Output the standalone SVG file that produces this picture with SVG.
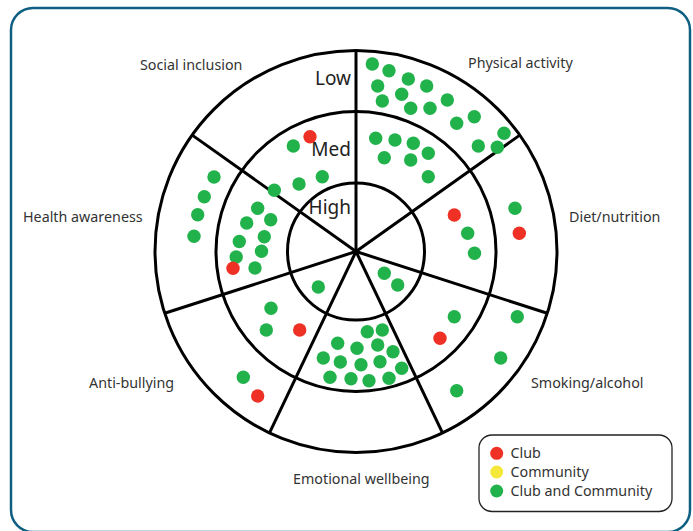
<svg xmlns="http://www.w3.org/2000/svg" width="693" height="531" viewBox="0 0 693 531">
<style>
.ring{fill:none;stroke:#000;stroke-width:3}
.spoke{stroke:#000;stroke-width:3;stroke-linecap:butt}
.lbl{font-family:"Noto Sans","Liberation Sans",sans-serif;font-size:14.3px;fill:#333}
.lvl{font-family:"Noto Sans","Liberation Sans",sans-serif;font-size:19px;fill:#222;text-anchor:end}
.g{fill:#21b24b}
.r{fill:#ee3124}
.y{fill:#f5e83a}
</style>
<rect x="11" y="8" width="679" height="524" rx="22" fill="#fff" stroke="#0f5f82" stroke-width="2.5"/>
<g id="rings">
<circle class="ring" cx="356" cy="251.5" r="201"/>
<circle class="ring" cx="356" cy="251.5" r="140"/>
<circle class="ring" cx="356" cy="251.5" r="68.5"/>
</g>
<g id="connectors">
<line class="spoke" x1="356" y1="251.5" x2="356" y2="50.5"/>
<line class="spoke" x1="356" y1="251.5" x2="519.8" y2="135.1"/>
<line class="spoke" x1="356" y1="251.5" x2="547.3" y2="313.3"/>
<line class="spoke" x1="356" y1="251.5" x2="442.5" y2="432.9"/>
<line class="spoke" x1="356" y1="251.5" x2="269.5" y2="432.9"/>
<line class="spoke" x1="356" y1="251.5" x2="164.7" y2="313.3"/>
<line class="spoke" x1="356" y1="251.5" x2="192.2" y2="135.1"/>
</g>
<g id="levels">
<text class="lvl" x="351" y="85">Low</text>
<text class="lvl" x="351" y="156">Med</text>
<text class="lvl" x="351" y="214">High</text>
</g>
<g id="social-inclusion">
<text class="lbl" x="140" y="70">Social inclusion</text>
<circle class="r" cx="310" cy="136.7" r="6.7"/>
<circle class="g" cx="293.3" cy="146" r="6.7"/>
<circle class="g" cx="322.3" cy="176.7" r="6.7"/>
<circle class="g" cx="299" cy="184" r="6.7"/>
<circle class="g" cx="274.3" cy="190.3" r="6.7"/>
</g>
<g id="physical-activity">
<text class="lbl" x="468" y="68">Physical activity</text>
<circle class="g" cx="372.3" cy="64" r="6.7"/>
<circle class="g" cx="389" cy="70.7" r="6.7"/>
<circle class="g" cx="408.3" cy="79" r="6.7"/>
<circle class="g" cx="426.7" cy="86" r="6.7"/>
<circle class="g" cx="377.7" cy="86" r="6.7"/>
<circle class="g" cx="401.7" cy="94.3" r="6.7"/>
<circle class="g" cx="382.3" cy="101" r="6.7"/>
<circle class="g" cx="410.7" cy="108.3" r="6.7"/>
<circle class="g" cx="430" cy="108.3" r="6.7"/>
<circle class="g" cx="447.3" cy="100" r="6.7"/>
<circle class="g" cx="456.7" cy="123.3" r="6.7"/>
<circle class="g" cx="474.3" cy="116.7" r="6.7"/>
<circle class="g" cx="504" cy="133.3" r="6.7"/>
<circle class="g" cx="478.3" cy="146" r="6.7"/>
<circle class="g" cx="497.3" cy="147.3" r="6.7"/>
<circle class="g" cx="375.7" cy="138.3" r="6.7"/>
<circle class="g" cx="395" cy="140" r="6.7"/>
<circle class="g" cx="413.3" cy="143.3" r="6.7"/>
<circle class="g" cx="428.3" cy="153.3" r="6.7"/>
<circle class="g" cx="384.3" cy="157.7" r="6.7"/>
<circle class="g" cx="410.7" cy="160" r="6.7"/>
<circle class="g" cx="428.3" cy="176.7" r="6.7"/>
</g>
<g id="diet-nutrition">
<text class="lbl" x="569" y="222">Diet/nutrition</text>
<circle class="r" cx="454.3" cy="215" r="6.7"/>
<circle class="g" cx="467.7" cy="233.3" r="6.7"/>
<circle class="g" cx="474.5" cy="253.3" r="6.7"/>
<circle class="g" cx="515" cy="208.3" r="6.7"/>
<circle class="r" cx="519.3" cy="233.3" r="6.7"/>
</g>
<g id="smoking-alcohol">
<text class="lbl" x="531" y="388">Smoking/alcohol</text>
<circle class="g" cx="384.3" cy="273.3" r="6.7"/>
<circle class="g" cx="397.7" cy="285" r="6.7"/>
<circle class="g" cx="454.3" cy="316.7" r="6.7"/>
<circle class="r" cx="440" cy="338.3" r="6.7"/>
<circle class="g" cx="517.3" cy="316.7" r="6.7"/>
<circle class="g" cx="500.7" cy="358" r="6.7"/>
<circle class="g" cx="456.7" cy="390.7" r="6.7"/>
</g>
<g id="emotional-wellbeing">
<text class="lbl" x="293" y="484">Emotional wellbeing</text>
<circle class="g" cx="367.3" cy="331.7" r="6.7"/>
<circle class="g" cx="382.3" cy="330" r="6.7"/>
<circle class="g" cx="337.7" cy="343.3" r="6.7"/>
<circle class="g" cx="357" cy="348.3" r="6.7"/>
<circle class="g" cx="377.7" cy="345" r="6.7"/>
<circle class="g" cx="393" cy="351.7" r="6.7"/>
<circle class="g" cx="323.3" cy="358" r="6.7"/>
<circle class="g" cx="340.3" cy="362" r="6.7"/>
<circle class="g" cx="361" cy="364.7" r="6.7"/>
<circle class="g" cx="380" cy="361.7" r="6.7"/>
<circle class="g" cx="401.7" cy="368.3" r="6.7"/>
<circle class="g" cx="330" cy="377.3" r="6.7"/>
<circle class="g" cx="351" cy="378.7" r="6.7"/>
<circle class="g" cx="369" cy="380.7" r="6.7"/>
<circle class="g" cx="389" cy="378.3" r="6.7"/>
</g>
<g id="anti-bullying">
<text class="lbl" x="89" y="388">Anti-bullying</text>
<circle class="g" cx="318.3" cy="287" r="6.7"/>
<circle class="g" cx="271" cy="308.3" r="6.7"/>
<circle class="g" cx="266.3" cy="330" r="6.7"/>
<circle class="r" cx="299.7" cy="330" r="6.7"/>
<circle class="g" cx="243.3" cy="377.3" r="6.7"/>
<circle class="r" cx="257.7" cy="396" r="6.7"/>
</g>
<g id="health-awareness">
<text class="lbl" x="23" y="222">Health awareness</text>
<circle class="g" cx="214" cy="177" r="6.7"/>
<circle class="g" cx="204.3" cy="196.7" r="6.7"/>
<circle class="g" cx="197.7" cy="214.7" r="6.7"/>
<circle class="g" cx="194" cy="236.3" r="6.7"/>
<circle class="g" cx="257.7" cy="208.3" r="6.7"/>
<circle class="g" cx="270.7" cy="219.7" r="6.7"/>
<circle class="g" cx="246.7" cy="223" r="6.7"/>
<circle class="g" cx="264.3" cy="236.7" r="6.7"/>
<circle class="g" cx="239.3" cy="241.5" r="6.7"/>
<circle class="g" cx="261.5" cy="251.3" r="6.7"/>
<circle class="g" cx="236.2" cy="257" r="6.7"/>
<circle class="r" cx="233" cy="268.3" r="6.7"/>
<circle class="g" cx="255" cy="268" r="6.7"/>
</g>
<g id="legend">
<rect x="479" y="435" width="193" height="76.5" rx="13" fill="#fff" stroke="#222" stroke-width="1.3"/>
<circle class="r" cx="496.7" cy="453.3" r="6.5"/>
<circle class="y" cx="496.7" cy="472" r="6.5"/>
<circle class="g" cx="496.7" cy="491" r="6.5"/>
<text class="lbl" x="510.5" y="458">Club</text>
<text class="lbl" x="510.5" y="477">Community</text>
<text class="lbl" x="510.5" y="496">Club and Community</text>
</g>
</svg>
